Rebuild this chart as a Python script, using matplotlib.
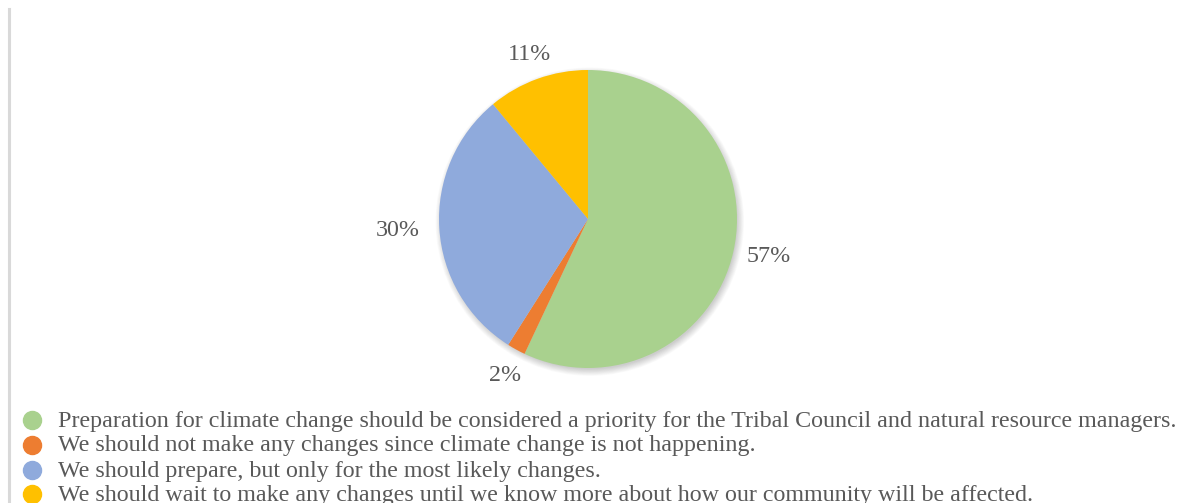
import numpy as np
import matplotlib.pyplot as plt
from matplotlib.lines import Line2D
from matplotlib.patches import Circle

# data
labels = ['Preparation for climate change should be considered a priority for the Tribal Council and natural resource managers.',
          'We should not make any changes since climate change is not happening.',
          'We should prepare, but only for the most likely changes.',
          'We should wait to make any changes until we know more about how our community will be affected.']
values = [57, 2, 30, 11]
colors = ['#A9D18E', '#ED7D31', '#8FAADC', '#FFC000']
text_color = '#595959'

plt.rcParams['font.family'] = ['Liberation Serif', 'DejaVu Serif']

W, H = 1189, 503
fig = plt.figure(figsize=(W / 100, H / 100), dpi=100)

# left frame line of the chart area
fig.add_artist(Line2D([8.5 / W, 8.5 / W], [0, 1 - 9 / H], color='#D9D9D9', lw=2.2))

# pie axes: centre (588, 219), radius ~149 px
cx, cy, r = 588, 219, 149
ax = fig.add_axes([(cx - r) / W, (H - cy - r) / H, 2 * r / W, 2 * r / H])
ax.set_xlim(-1, 1)
ax.set_ylim(-1, 1)
ax.set_aspect('equal')
ax.axis('off')

# soft shadow
for i in range(10):
    ax.add_patch(Circle((0.012, -0.018), 0.99 + 0.005 * i, color='black', alpha=0.02,
                        lw=0, zorder=0, clip_on=False))

wedges, _ = ax.pie(values, colors=colors, startangle=90, counterclock=False, radius=1.0,
                   wedgeprops=dict(edgecolor='none', zorder=2))
for w in wedges:
    w.set_clip_on(False)

# percentage labels outside the slices
total = float(sum(values))
start = 90.0
for v in values:
    mid = np.deg2rad(start - 360 * v / total / 2)
    start -= 360 * v / total
    c, s = np.cos(mid), np.sin(mid)
    ha = 'left' if c > 0.5 else ('right' if c < -0.5 else 'center')
    va = 'bottom' if s > 0.5 else ('top' if s < -0.5 else 'center')
    ax.text(1.11 * c - 0.02, 1.11 * s - 0.01, '%d%%' % v, color=text_color, fontsize=17.3,
            ha=ha, va=va)

ax.set_xlim(-1, 1)
ax.set_ylim(-1, 1)

# legend
ys = [420, 445, 470, 494]
for lab, c, y in zip(labels, colors, ys):
    fig.add_artist(Line2D([32 / W], [1 - y / H], marker='o', markersize=13, color=c, lw=0))
    fig.text(58 / W, 1 - (y + 1) / H, lab, color=text_color, fontsize=17.3, ha='left', va='center')

fig.savefig('out.png', dpi=100)
